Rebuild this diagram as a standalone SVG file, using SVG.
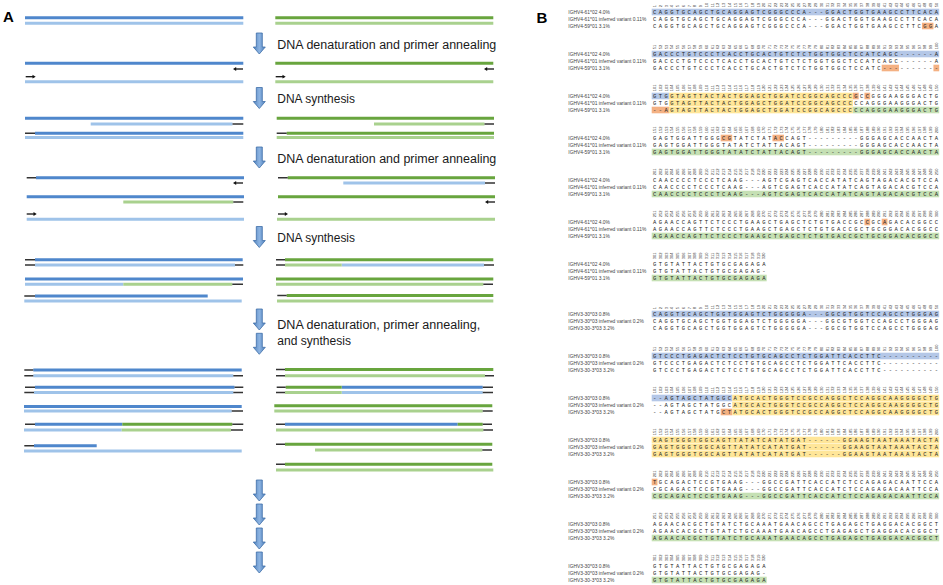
<svg xmlns="http://www.w3.org/2000/svg" xmlns:xlink="http://www.w3.org/1999/xlink" width="943" height="585" viewBox="0 0 943 585">
<style>
.lbl{font:4.9px "Liberation Sans",Arial,sans-serif;fill:#444}
.seq{font:5.5px "Liberation Mono","Courier New",monospace;letter-spacing:2.45px;fill:#222}
.num{font:4px "Liberation Sans",Arial,sans-serif;fill:#333}
.hb{fill:#b4c7e7}.hy{fill:#ffe699}.hg{fill:#c5e0b4}.ho{fill:#f4b183}
.db,.lb,.dg,.lg,.bk{fill:none}
.db{stroke:#4f87cc;stroke-width:3}.lb{stroke:#9fc3e9;stroke-width:3}.dg{stroke:#68a53e;stroke-width:3}.lg{stroke:#a9d18e;stroke-width:3}.bk{stroke:#333;stroke-width:1.6}
.step{font:12.5px "Liberation Sans",Arial,sans-serif;fill:#1a1a1a}
.panel{font:bold 15px "Liberation Sans",Arial,sans-serif;fill:#000}
.darr{fill:url(#ag);stroke:#3f6fa8;stroke-width:0.8}
</style>
<defs>
<linearGradient id="ag" x1="0" x2="1" y1="0" y2="0"><stop offset="0" stop-color="#4f81bd"/><stop offset="0.5" stop-color="#8db4e2"/><stop offset="1" stop-color="#4f81bd"/></linearGradient>
<path id="darr" class="darr" d="M-3,0h6v14h3l-6,7l-6,-7h3z"/>
<g id="arL"><path d="M2.5,0H10" stroke="#111" stroke-width="1.3"/><path d="M0,0l3.2-1.9v3.8z" fill="#111"/></g>
<g id="arR"><path d="M0,0H7.5" stroke="#111" stroke-width="1.3"/><path d="M10,0l-3.2-1.9v3.8z" fill="#111"/></g>
<text id="n1" class="num" transform="rotate(-90)"><tspan x="0">1</tspan><tspan x="0" dy="5.75">2</tspan><tspan x="0" dy="5.75">3</tspan><tspan x="0" dy="5.75">4</tspan><tspan x="0" dy="5.75">5</tspan><tspan x="0" dy="5.75">6</tspan><tspan x="0" dy="5.75">7</tspan><tspan x="0" dy="5.75">8</tspan><tspan x="0" dy="5.75">9</tspan><tspan x="0" dy="5.75">10</tspan><tspan x="0" dy="5.75">11</tspan><tspan x="0" dy="5.75">12</tspan><tspan x="0" dy="5.75">13</tspan><tspan x="0" dy="5.75">14</tspan><tspan x="0" dy="5.75">15</tspan><tspan x="0" dy="5.75">16</tspan><tspan x="0" dy="5.75">17</tspan><tspan x="0" dy="5.75">18</tspan><tspan x="0" dy="5.75">19</tspan><tspan x="0" dy="5.75">20</tspan><tspan x="0" dy="5.75">21</tspan><tspan x="0" dy="5.75">22</tspan><tspan x="0" dy="5.75">23</tspan><tspan x="0" dy="5.75">24</tspan><tspan x="0" dy="5.75">25</tspan><tspan x="0" dy="5.75">26</tspan><tspan x="0" dy="5.75">27</tspan><tspan x="0" dy="5.75">28</tspan><tspan x="0" dy="5.75">29</tspan><tspan x="0" dy="5.75">30</tspan><tspan x="0" dy="5.75">31</tspan><tspan x="0" dy="5.75">32</tspan><tspan x="0" dy="5.75">33</tspan><tspan x="0" dy="5.75">34</tspan><tspan x="0" dy="5.75">35</tspan><tspan x="0" dy="5.75">36</tspan><tspan x="0" dy="5.75">37</tspan><tspan x="0" dy="5.75">38</tspan><tspan x="0" dy="5.75">39</tspan><tspan x="0" dy="5.75">40</tspan><tspan x="0" dy="5.75">41</tspan><tspan x="0" dy="5.75">42</tspan><tspan x="0" dy="5.75">43</tspan><tspan x="0" dy="5.75">44</tspan><tspan x="0" dy="5.75">45</tspan><tspan x="0" dy="5.75">46</tspan><tspan x="0" dy="5.75">47</tspan><tspan x="0" dy="5.75">48</tspan><tspan x="0" dy="5.75">49</tspan><tspan x="0" dy="5.75">50</tspan></text>
<text id="n2" class="num" transform="rotate(-90)"><tspan x="0">51</tspan><tspan x="0" dy="5.75">52</tspan><tspan x="0" dy="5.75">53</tspan><tspan x="0" dy="5.75">54</tspan><tspan x="0" dy="5.75">55</tspan><tspan x="0" dy="5.75">56</tspan><tspan x="0" dy="5.75">57</tspan><tspan x="0" dy="5.75">58</tspan><tspan x="0" dy="5.75">59</tspan><tspan x="0" dy="5.75">60</tspan><tspan x="0" dy="5.75">61</tspan><tspan x="0" dy="5.75">62</tspan><tspan x="0" dy="5.75">63</tspan><tspan x="0" dy="5.75">64</tspan><tspan x="0" dy="5.75">65</tspan><tspan x="0" dy="5.75">66</tspan><tspan x="0" dy="5.75">67</tspan><tspan x="0" dy="5.75">68</tspan><tspan x="0" dy="5.75">69</tspan><tspan x="0" dy="5.75">70</tspan><tspan x="0" dy="5.75">71</tspan><tspan x="0" dy="5.75">72</tspan><tspan x="0" dy="5.75">73</tspan><tspan x="0" dy="5.75">74</tspan><tspan x="0" dy="5.75">75</tspan><tspan x="0" dy="5.75">76</tspan><tspan x="0" dy="5.75">77</tspan><tspan x="0" dy="5.75">78</tspan><tspan x="0" dy="5.75">79</tspan><tspan x="0" dy="5.75">80</tspan><tspan x="0" dy="5.75">81</tspan><tspan x="0" dy="5.75">82</tspan><tspan x="0" dy="5.75">83</tspan><tspan x="0" dy="5.75">84</tspan><tspan x="0" dy="5.75">85</tspan><tspan x="0" dy="5.75">86</tspan><tspan x="0" dy="5.75">87</tspan><tspan x="0" dy="5.75">88</tspan><tspan x="0" dy="5.75">89</tspan><tspan x="0" dy="5.75">90</tspan><tspan x="0" dy="5.75">91</tspan><tspan x="0" dy="5.75">92</tspan><tspan x="0" dy="5.75">93</tspan><tspan x="0" dy="5.75">94</tspan><tspan x="0" dy="5.75">95</tspan><tspan x="0" dy="5.75">96</tspan><tspan x="0" dy="5.75">97</tspan><tspan x="0" dy="5.75">98</tspan><tspan x="0" dy="5.75">99</tspan><tspan x="0" dy="5.75">100</tspan></text>
<text id="n3" class="num" transform="rotate(-90)"><tspan x="0">101</tspan><tspan x="0" dy="5.75">102</tspan><tspan x="0" dy="5.75">103</tspan><tspan x="0" dy="5.75">104</tspan><tspan x="0" dy="5.75">105</tspan><tspan x="0" dy="5.75">106</tspan><tspan x="0" dy="5.75">107</tspan><tspan x="0" dy="5.75">108</tspan><tspan x="0" dy="5.75">109</tspan><tspan x="0" dy="5.75">110</tspan><tspan x="0" dy="5.75">111</tspan><tspan x="0" dy="5.75">112</tspan><tspan x="0" dy="5.75">113</tspan><tspan x="0" dy="5.75">114</tspan><tspan x="0" dy="5.75">115</tspan><tspan x="0" dy="5.75">116</tspan><tspan x="0" dy="5.75">117</tspan><tspan x="0" dy="5.75">118</tspan><tspan x="0" dy="5.75">119</tspan><tspan x="0" dy="5.75">120</tspan><tspan x="0" dy="5.75">121</tspan><tspan x="0" dy="5.75">122</tspan><tspan x="0" dy="5.75">123</tspan><tspan x="0" dy="5.75">124</tspan><tspan x="0" dy="5.75">125</tspan><tspan x="0" dy="5.75">126</tspan><tspan x="0" dy="5.75">127</tspan><tspan x="0" dy="5.75">128</tspan><tspan x="0" dy="5.75">129</tspan><tspan x="0" dy="5.75">130</tspan><tspan x="0" dy="5.75">131</tspan><tspan x="0" dy="5.75">132</tspan><tspan x="0" dy="5.75">133</tspan><tspan x="0" dy="5.75">134</tspan><tspan x="0" dy="5.75">135</tspan><tspan x="0" dy="5.75">136</tspan><tspan x="0" dy="5.75">137</tspan><tspan x="0" dy="5.75">138</tspan><tspan x="0" dy="5.75">139</tspan><tspan x="0" dy="5.75">140</tspan><tspan x="0" dy="5.75">141</tspan><tspan x="0" dy="5.75">142</tspan><tspan x="0" dy="5.75">143</tspan><tspan x="0" dy="5.75">144</tspan><tspan x="0" dy="5.75">145</tspan><tspan x="0" dy="5.75">146</tspan><tspan x="0" dy="5.75">147</tspan><tspan x="0" dy="5.75">148</tspan><tspan x="0" dy="5.75">149</tspan><tspan x="0" dy="5.75">150</tspan></text>
<text id="n4" class="num" transform="rotate(-90)"><tspan x="0">151</tspan><tspan x="0" dy="5.75">152</tspan><tspan x="0" dy="5.75">153</tspan><tspan x="0" dy="5.75">154</tspan><tspan x="0" dy="5.75">155</tspan><tspan x="0" dy="5.75">156</tspan><tspan x="0" dy="5.75">157</tspan><tspan x="0" dy="5.75">158</tspan><tspan x="0" dy="5.75">159</tspan><tspan x="0" dy="5.75">160</tspan><tspan x="0" dy="5.75">161</tspan><tspan x="0" dy="5.75">162</tspan><tspan x="0" dy="5.75">163</tspan><tspan x="0" dy="5.75">164</tspan><tspan x="0" dy="5.75">165</tspan><tspan x="0" dy="5.75">166</tspan><tspan x="0" dy="5.75">167</tspan><tspan x="0" dy="5.75">168</tspan><tspan x="0" dy="5.75">169</tspan><tspan x="0" dy="5.75">170</tspan><tspan x="0" dy="5.75">171</tspan><tspan x="0" dy="5.75">172</tspan><tspan x="0" dy="5.75">173</tspan><tspan x="0" dy="5.75">174</tspan><tspan x="0" dy="5.75">175</tspan><tspan x="0" dy="5.75">176</tspan><tspan x="0" dy="5.75">177</tspan><tspan x="0" dy="5.75">178</tspan><tspan x="0" dy="5.75">179</tspan><tspan x="0" dy="5.75">180</tspan><tspan x="0" dy="5.75">181</tspan><tspan x="0" dy="5.75">182</tspan><tspan x="0" dy="5.75">183</tspan><tspan x="0" dy="5.75">184</tspan><tspan x="0" dy="5.75">185</tspan><tspan x="0" dy="5.75">186</tspan><tspan x="0" dy="5.75">187</tspan><tspan x="0" dy="5.75">188</tspan><tspan x="0" dy="5.75">189</tspan><tspan x="0" dy="5.75">190</tspan><tspan x="0" dy="5.75">191</tspan><tspan x="0" dy="5.75">192</tspan><tspan x="0" dy="5.75">193</tspan><tspan x="0" dy="5.75">194</tspan><tspan x="0" dy="5.75">195</tspan><tspan x="0" dy="5.75">196</tspan><tspan x="0" dy="5.75">197</tspan><tspan x="0" dy="5.75">198</tspan><tspan x="0" dy="5.75">199</tspan><tspan x="0" dy="5.75">200</tspan></text>
<text id="n5" class="num" transform="rotate(-90)"><tspan x="0">201</tspan><tspan x="0" dy="5.75">202</tspan><tspan x="0" dy="5.75">203</tspan><tspan x="0" dy="5.75">204</tspan><tspan x="0" dy="5.75">205</tspan><tspan x="0" dy="5.75">206</tspan><tspan x="0" dy="5.75">207</tspan><tspan x="0" dy="5.75">208</tspan><tspan x="0" dy="5.75">209</tspan><tspan x="0" dy="5.75">210</tspan><tspan x="0" dy="5.75">211</tspan><tspan x="0" dy="5.75">212</tspan><tspan x="0" dy="5.75">213</tspan><tspan x="0" dy="5.75">214</tspan><tspan x="0" dy="5.75">215</tspan><tspan x="0" dy="5.75">216</tspan><tspan x="0" dy="5.75">217</tspan><tspan x="0" dy="5.75">218</tspan><tspan x="0" dy="5.75">219</tspan><tspan x="0" dy="5.75">220</tspan><tspan x="0" dy="5.75">221</tspan><tspan x="0" dy="5.75">222</tspan><tspan x="0" dy="5.75">223</tspan><tspan x="0" dy="5.75">224</tspan><tspan x="0" dy="5.75">225</tspan><tspan x="0" dy="5.75">226</tspan><tspan x="0" dy="5.75">227</tspan><tspan x="0" dy="5.75">228</tspan><tspan x="0" dy="5.75">229</tspan><tspan x="0" dy="5.75">230</tspan><tspan x="0" dy="5.75">231</tspan><tspan x="0" dy="5.75">232</tspan><tspan x="0" dy="5.75">233</tspan><tspan x="0" dy="5.75">234</tspan><tspan x="0" dy="5.75">235</tspan><tspan x="0" dy="5.75">236</tspan><tspan x="0" dy="5.75">237</tspan><tspan x="0" dy="5.75">238</tspan><tspan x="0" dy="5.75">239</tspan><tspan x="0" dy="5.75">240</tspan><tspan x="0" dy="5.75">241</tspan><tspan x="0" dy="5.75">242</tspan><tspan x="0" dy="5.75">243</tspan><tspan x="0" dy="5.75">244</tspan><tspan x="0" dy="5.75">245</tspan><tspan x="0" dy="5.75">246</tspan><tspan x="0" dy="5.75">247</tspan><tspan x="0" dy="5.75">248</tspan><tspan x="0" dy="5.75">249</tspan><tspan x="0" dy="5.75">250</tspan></text>
<text id="n6" class="num" transform="rotate(-90)"><tspan x="0">251</tspan><tspan x="0" dy="5.75">252</tspan><tspan x="0" dy="5.75">253</tspan><tspan x="0" dy="5.75">254</tspan><tspan x="0" dy="5.75">255</tspan><tspan x="0" dy="5.75">256</tspan><tspan x="0" dy="5.75">257</tspan><tspan x="0" dy="5.75">258</tspan><tspan x="0" dy="5.75">259</tspan><tspan x="0" dy="5.75">260</tspan><tspan x="0" dy="5.75">261</tspan><tspan x="0" dy="5.75">262</tspan><tspan x="0" dy="5.75">263</tspan><tspan x="0" dy="5.75">264</tspan><tspan x="0" dy="5.75">265</tspan><tspan x="0" dy="5.75">266</tspan><tspan x="0" dy="5.75">267</tspan><tspan x="0" dy="5.75">268</tspan><tspan x="0" dy="5.75">269</tspan><tspan x="0" dy="5.75">270</tspan><tspan x="0" dy="5.75">271</tspan><tspan x="0" dy="5.75">272</tspan><tspan x="0" dy="5.75">273</tspan><tspan x="0" dy="5.75">274</tspan><tspan x="0" dy="5.75">275</tspan><tspan x="0" dy="5.75">276</tspan><tspan x="0" dy="5.75">277</tspan><tspan x="0" dy="5.75">278</tspan><tspan x="0" dy="5.75">279</tspan><tspan x="0" dy="5.75">280</tspan><tspan x="0" dy="5.75">281</tspan><tspan x="0" dy="5.75">282</tspan><tspan x="0" dy="5.75">283</tspan><tspan x="0" dy="5.75">284</tspan><tspan x="0" dy="5.75">285</tspan><tspan x="0" dy="5.75">286</tspan><tspan x="0" dy="5.75">287</tspan><tspan x="0" dy="5.75">288</tspan><tspan x="0" dy="5.75">289</tspan><tspan x="0" dy="5.75">290</tspan><tspan x="0" dy="5.75">291</tspan><tspan x="0" dy="5.75">292</tspan><tspan x="0" dy="5.75">293</tspan><tspan x="0" dy="5.75">294</tspan><tspan x="0" dy="5.75">295</tspan><tspan x="0" dy="5.75">296</tspan><tspan x="0" dy="5.75">297</tspan><tspan x="0" dy="5.75">298</tspan><tspan x="0" dy="5.75">299</tspan><tspan x="0" dy="5.75">300</tspan></text>
<text id="n7" class="num" transform="rotate(-90)"><tspan x="0">301</tspan><tspan x="0" dy="5.75">302</tspan><tspan x="0" dy="5.75">303</tspan><tspan x="0" dy="5.75">304</tspan><tspan x="0" dy="5.75">305</tspan><tspan x="0" dy="5.75">306</tspan><tspan x="0" dy="5.75">307</tspan><tspan x="0" dy="5.75">308</tspan><tspan x="0" dy="5.75">309</tspan><tspan x="0" dy="5.75">310</tspan><tspan x="0" dy="5.75">311</tspan><tspan x="0" dy="5.75">312</tspan><tspan x="0" dy="5.75">313</tspan><tspan x="0" dy="5.75">314</tspan><tspan x="0" dy="5.75">315</tspan><tspan x="0" dy="5.75">316</tspan><tspan x="0" dy="5.75">317</tspan><tspan x="0" dy="5.75">318</tspan><tspan x="0" dy="5.75">319</tspan><tspan x="0" dy="5.75">320</tspan></text>
</defs>
<rect width="943" height="585" fill="#fff"/>

<!-- Panel A -->
<g id="panelA">
<text class="panel" x="3" y="22">A</text>
<g id="a-row1">
<path class="db" d="M25 17.7H243.3"/><path class="lb" d="M25 23.3H243.3"/>
<path class="dg" d="M275.3 17.7H493.3"/><path class="lg" d="M275.3 23.3H493.3"/>
</g>
<g id="a-row2">
<path class="db" d="M25 63.3H243.3"/><path class="lb" d="M25 81.7H243.3"/>
<path class="dg" d="M275.3 63.3H493.3"/><path class="lg" d="M275.3 81.7H493.3"/>
<use href="#arL" x="233" y="69"/><use href="#arR" x="25.7" y="76.7"/>
<use href="#arL" x="484" y="69"/><use href="#arR" x="275.7" y="76.7"/>
</g>
<g id="a-row3">
<path class="db" d="M25 118.3H243.3M35 133.3H243.3"/>
<path class="lb" d="M90.7 124H232.5M25 137.5H243.3"/>
<path class="dg" d="M276.7 118.3H494M286.7 133.3H494"/>
<path class="lg" d="M374 124H484.5M276.7 137.5H494"/>
<path class="bk" d="M232.5 124H243.3M25 133.3H35M484.5 124H494M276.7 133.3H286.7"/>
</g>
<g id="a-row4">
<path class="db" d="M36 177.7H244M26.7 196.7H244"/>
<path class="lb" d="M26.7 219.3H244M343.3 183H485"/>
<path class="dg" d="M287.7 177.7H495M278 196.7H495"/>
<path class="lg" d="M123.3 202H233.3M277 219.3H495"/>
<path class="bk" d="M26.7 177.7H36M233.3 202H243.3M278 177.7H287.7M485 183H495"/>
<use href="#arL" x="233" y="183"/><use href="#arR" x="26.7" y="214"/>
<use href="#arL" x="485" y="202"/><use href="#arR" x="278" y="214"/>
</g>
<g id="a-row5">
<path class="db" d="M35 259.7H242.7M25 279H243M35 296H207.7"/>
<path class="lb" d="M35 265H235M25 284.3H123.3M24.3 301H241.7M341.7 265H484"/>
<path class="dg" d="M285 259.7H493.3M276 279H493.3M286.7 295.5H493.3"/>
<path class="lg" d="M123.3 284.3H232.3M285 265H341.7M276 284.3H483.3M277 301H493.3"/>
<path class="bk" d="M25 259.7H35M25 265H35M235 265H243.3M232.3 284.3H243M24.3 296H35M276 259.7H285M276 265H285M484 265H494M483.3 284.3H493M277.3 295.5H286.7"/>
</g>
<g id="a-row6">
<path class="db" d="M33.3 370H241.7M35 387.3H234.5M24 406.5H241.7M35 424.3H122.3M34 445.7H96.7M341.7 387.3H482.7M285 424.3H457.7"/>
<path class="lb" d="M33.3 375.7H233.3M34 392.5H233.3M24 411H231.7M24 430H121.7M24 451H241.7M341.7 392.5H482.7"/>
<path class="dg" d="M122.3 424.3H232.3M285 369.5H493.3M285.7 387.3H341.7M274.3 405.7H492.3M457.7 424.3H482.7M285 444.3H492.3M285 464.3H492.3"/>
<path class="lg" d="M121.7 430H231M285 375.7H485M285 392.5H341.7M274.3 411H482.7M276 430H483.3M315 450H482.3M276 470H493.3"/>
<path class="bk" d="M24.3 370H33.3M24.3 375.7H33.3M233.3 375.7H243M25 387.3H35M234.5 387.3H243.3M24.3 392.5H34M233.3 392.5H243M231.7 411H243M25 424.3H35M232.3 424.3H243.3M231 430H243M24.3 445.7H34M276 369.5H285M276 375.7H285M485 375.7H494M276.7 387.3H285.7M482.7 387.3H493M276 392.5H285M482.7 392.5H493M482.7 411H492.7M276 424.3H285M482.7 424.3H492M483.3 430H493M276 444.3H285M482.3 450H492M276 464.3H285"/>
</g>
<g id="a-steps">
<use href="#darr" x="259.3" y="33"/>
<text class="step" x="277.3" y="49" textLength="219" lengthAdjust="spacingAndGlyphs">DNA denaturation and primer annealing</text>
<use href="#darr" x="259.3" y="87.5"/>
<text class="step" x="277.3" y="102.5" textLength="77.7" lengthAdjust="spacingAndGlyphs">DNA synthesis</text>
<use href="#darr" x="259.3" y="147"/>
<text class="step" x="277.3" y="163.3" textLength="219" lengthAdjust="spacingAndGlyphs">DNA denaturation and primer annealing</text>
<use href="#darr" x="259.3" y="226.5"/>
<text class="step" x="277.3" y="241.7" textLength="77.7" lengthAdjust="spacingAndGlyphs">DNA synthesis</text>
<use href="#darr" x="259.3" y="309"/>
<use href="#darr" x="259.3" y="333.3"/>
<text class="step" x="277.3" y="329" textLength="203" lengthAdjust="spacingAndGlyphs">DNA denaturation, primer annealing,</text>
<text class="step" x="277.3" y="344.5" textLength="73.7" lengthAdjust="spacingAndGlyphs">and synthesis</text>
<use href="#darr" x="259.3" y="480"/>
<use href="#darr" x="259.3" y="504"/>
<use href="#darr" x="259.3" y="528"/>
<use href="#darr" x="259.3" y="552"/>
</g>
</g>

<!-- Panel B -->
<g id="panelB">
<text class="panel" x="536.5" y="23.3">B</text>

<g id="v4-b1">
<rect class="hb" x="651.7" y="8.7" width="287.5" height="6.6"/>
<rect class="ho" x="921.95" y="22.7" width="11.5" height="6.6"/>
<use href="#n1" x="656" y="7.2"/>
<text class="lbl" x="568.3" y="13.7">IGHV4-61*02 4.0%</text>
<text class="lbl" x="568.3" y="20.7">IGHV4-61*01 inferred variant 0.11%</text>
<text class="lbl" x="568.3" y="27.7">IGHV4-59*01 3.1%</text>
<text class="seq" x="652.93" y="13.9">CAGGTGCAGCTGCAGGAGTCGGGCCCA---GGACTGGTGAAGCCTTCACA</text>
<text class="seq" x="652.93" y="20.9">CAGGTGCAGCTGCAGGAGTCGGGCCCA---GGACTGGTGAAGCCTTCACA</text>
<text class="seq" x="652.93" y="27.9">CAGGTGCAGCTGCAGGAGTCGGGCCCA---GGACTGGTGAAGCCTTCGGA</text>
</g>

<g id="v4-b2">
<rect class="hb" x="651.7" y="50.7" width="287.5" height="6.6"/>
<rect class="ho" x="881.7" y="64.7" width="17.25" height="6.6"/>
<rect class="ho" x="933.45" y="64.7" width="5.75" height="6.6"/>
<use href="#n2" x="656" y="49.2"/>
<text class="lbl" x="568.3" y="55.7">IGHV4-61*02 4.0%</text>
<text class="lbl" x="568.3" y="62.7">IGHV4-61*01 inferred variant 0.11%</text>
<text class="lbl" x="568.3" y="69.7">IGHV4-59*01 3.1%</text>
<text class="seq" x="652.93" y="55.9">GACCCTGTCCCTCACCTGCACTGTCTCTGGTGGCTCCATCAGC------A</text>
<text class="seq" x="652.93" y="62.9">GACCCTGTCCCTCACCTGCACTGTCTCTGGTGGCTCCATCAGC------A</text>
<text class="seq" x="652.93" y="69.9">GACCCTGTCCCTCACCTGCACTGTCTCTGGTGGCTCCATC----------</text>
</g>

<g id="v4-b3">
<rect class="hb" x="651.7" y="92.7" width="17.25" height="6.6"/>
<rect class="hy" x="668.95" y="92.7" width="184" height="6.6"/>
<rect class="ho" x="852.95" y="92.7" width="5.75" height="6.6"/>
<rect class="ho" x="864.45" y="92.7" width="5.75" height="6.6"/>
<rect class="hy" x="668.95" y="99.7" width="184" height="6.6"/>
<rect class="ho" x="651.7" y="106.7" width="17.25" height="6.6"/>
<rect class="hy" x="668.95" y="106.7" width="184" height="6.6"/>
<rect class="hg" x="852.95" y="106.7" width="86.25" height="6.6"/>
<use href="#n3" x="656" y="91.2"/>
<text class="lbl" x="568.3" y="97.7">IGHV4-61*02 4.0%</text>
<text class="lbl" x="568.3" y="104.7">IGHV4-61*01 inferred variant 0.11%</text>
<text class="lbl" x="568.3" y="111.7">IGHV4-59*01 3.1%</text>
<text class="seq" x="652.93" y="97.9">GTGGTAGTTACTACTGGAGCTGGATCCGGCAGCCCGCCGGGAAGGGACTG</text>
<text class="seq" x="652.93" y="104.9">GTGGTAGTTACTACTGGAGCTGGATCCGGCAGCCCCCAGGGAAGGGACTG</text>
<text class="seq" x="652.93" y="111.9">--AGTAGTTACTACTGGAGCTGGATCCGGCAGCCCCCAGGGAAGGGACTG</text>
</g>

<g id="v4-b4">
<rect class="ho" x="720.7" y="134.7" width="11.5" height="6.6"/>
<rect class="ho" x="772.45" y="134.7" width="11.5" height="6.6"/>
<rect class="hg" x="651.7" y="148.7" width="287.5" height="6.6"/>
<use href="#n4" x="656" y="133.2"/>
<text class="lbl" x="568.3" y="139.7">IGHV4-61*02 4.0%</text>
<text class="lbl" x="568.3" y="146.7">IGHV4-61*01 inferred variant 0.11%</text>
<text class="lbl" x="568.3" y="153.7">IGHV4-59*01 3.1%</text>
<text class="seq" x="652.93" y="139.9">GAGTGGATTGGGCGTATCTATACCAGT---------GGGAGCACCAACTA</text>
<text class="seq" x="652.93" y="146.9">GAGTGGATTGGGTATATCTATTACAGT---------GGGAGCACCAACTA</text>
<text class="seq" x="652.93" y="153.9">GAGTGGATTGGGTATATCTATTACAGT---------GGGAGCACCAACTA</text>
</g>

<g id="v4-b5">
<rect class="hg" x="651.7" y="190.7" width="287.5" height="6.6"/>
<use href="#n5" x="656" y="175.2"/>
<text class="lbl" x="568.3" y="181.7">IGHV4-61*02 4.0%</text>
<text class="lbl" x="568.3" y="188.7">IGHV4-61*01 inferred variant 0.11%</text>
<text class="lbl" x="568.3" y="195.7">IGHV4-59*01 3.1%</text>
<text class="seq" x="652.93" y="181.9">CAACCCCTCCCTCAAG---AGTCGAGTCACCATATCAGTAGACACGTCCA</text>
<text class="seq" x="652.93" y="188.9">CAACCCCTCCCTCAAG---AGTCGAGTCACCATATCAGTAGACACGTCCA</text>
<text class="seq" x="652.93" y="195.9">CAACCCCTCCCTCAAG---AGTCGAGTCACCATATCAGTAGACACGTCCA</text>
</g>

<g id="v4-b6">
<rect class="ho" x="864.45" y="218.7" width="5.75" height="6.6"/>
<rect class="ho" x="881.7" y="218.7" width="5.75" height="6.6"/>
<rect class="hg" x="651.7" y="232.7" width="287.5" height="6.6"/>
<use href="#n6" x="656" y="217.2"/>
<text class="lbl" x="568.3" y="223.7">IGHV4-61*02 4.0%</text>
<text class="lbl" x="568.3" y="230.7">IGHV4-61*01 inferred variant 0.11%</text>
<text class="lbl" x="568.3" y="237.7">IGHV4-59*01 3.1%</text>
<text class="seq" x="652.93" y="223.9">AGAACCAGTTCTCCCTGAAGCTGAGCTCTGTGACCGCCGCAGACACGGCC</text>
<text class="seq" x="652.93" y="230.9">AGAACCAGTTCTCCCTGAAGCTGAGCTCTGTGACCGCTGCGGACACGGCC</text>
<text class="seq" x="652.93" y="237.9">AGAACCAGTTCTCCCTGAAGCTGAGCTCTGTGACCGCTGCGGACACGGCC</text>
</g>

<g id="v4-b7">
<rect class="hg" x="651.7" y="274.7" width="115" height="6.6"/>
<use href="#n7" x="656" y="259.2"/>
<text class="lbl" x="568.3" y="265.7">IGHV4-61*02 4.0%</text>
<text class="lbl" x="568.3" y="272.7">IGHV4-61*01 inferred variant 0.11%</text>
<text class="lbl" x="568.3" y="279.7">IGHV4-59*01 3.1%</text>
<text class="seq" x="652.93" y="265.9">GTGTATTACTGTGCGAGAGA</text>
<text class="seq" x="652.93" y="272.9">GTGTATTACTGTGCGAGAG-</text>
<text class="seq" x="652.93" y="279.9">GTGTATTACTGTGCGAGAGA</text>
</g>

<g id="v3-b1">
<rect class="hb" x="651.7" y="310.7" width="287.5" height="6.6"/>
<use href="#n1" x="656" y="309.2"/>
<text class="lbl" x="568.3" y="315.7">IGHV3-30*03 0.8%</text>
<text class="lbl" x="568.3" y="322.7">IGHV3-30*03 inferred variant 0.2%</text>
<text class="lbl" x="568.3" y="329.7">IGHV3-30-3*03 3.2%</text>
<text class="seq" x="652.93" y="315.9">CAGGTGCAGCTGGTGGAGTCTGGGGGA---GGCGTGGTCCAGCCTGGGAG</text>
<text class="seq" x="652.93" y="322.9">CAGGTGCAGCTGGTGGAGTCTGGGGGA---GGCGTGGTCCAGCCTGGGAG</text>
<text class="seq" x="652.93" y="329.9">CAGGTGCAGCTGGTGGAGTCTGGGGGA---GGCGTGGTCCAGCCTGGGAG</text>
</g>

<g id="v3-b2">
<rect class="hb" x="651.7" y="352.7" width="287.5" height="6.6"/>
<use href="#n2" x="656" y="351.2"/>
<text class="lbl" x="568.3" y="357.7">IGHV3-30*03 0.8%</text>
<text class="lbl" x="568.3" y="364.7">IGHV3-30*03 inferred variant 0.2%</text>
<text class="lbl" x="568.3" y="371.7">IGHV3-30-3*03 3.2%</text>
<text class="seq" x="652.93" y="357.9">GTCCCTGAGACTCTCCTGTGCAGCCTCTGGATTCACCTTC----------</text>
<text class="seq" x="652.93" y="364.9">GTCCCTGAGACTCTCCTGTGCAGCCTCTGGATTCACCTTC----------</text>
<text class="seq" x="652.93" y="371.9">GTCCCTGAGACTCTCCTGTGCAGCCTCTGGATTCACCTTC----------</text>
</g>

<g id="v3-b3">
<rect class="hb" x="651.7" y="394.7" width="80.5" height="6.6"/>
<rect class="hy" x="732.2" y="394.7" width="207" height="6.6"/>
<rect class="hy" x="732.2" y="401.7" width="207" height="6.6"/>
<rect class="ho" x="720.7" y="408.7" width="11.5" height="6.6"/>
<rect class="hy" x="732.2" y="408.7" width="207" height="6.6"/>
<use href="#n3" x="656" y="393.2"/>
<text class="lbl" x="568.3" y="399.7">IGHV3-30*03 0.8%</text>
<text class="lbl" x="568.3" y="406.7">IGHV3-30*03 inferred variant 0.2%</text>
<text class="lbl" x="568.3" y="413.7">IGHV3-30-3*03 3.2%</text>
<text class="seq" x="652.93" y="399.9">--AGTAGCTATGGCATGCACTGGGTCCGCCAGGCTCCAGGCAAGGGGCTG</text>
<text class="seq" x="652.93" y="406.9">--AGTAGCTATGGCATGCACTGGGTCCGCCAGGCTCCAGGCAAGGGGCTG</text>
<text class="seq" x="652.93" y="413.9">--AGTAGCTATGCTATGCACTGGGTCCGCCAGGCTCCAGGCAAGGGGCTG</text>
</g>

<g id="v3-b4">
<rect class="hy" x="651.7" y="436.7" width="287.5" height="6.6"/>
<rect class="hy" x="651.7" y="443.7" width="287.5" height="6.6"/>
<rect class="hy" x="651.7" y="450.7" width="287.5" height="6.6"/>
<use href="#n4" x="656" y="435.2"/>
<text class="lbl" x="568.3" y="441.7">IGHV3-30*03 0.8%</text>
<text class="lbl" x="568.3" y="448.7">IGHV3-30*03 inferred variant 0.2%</text>
<text class="lbl" x="568.3" y="455.7">IGHV3-30-3*03 3.2%</text>
<text class="seq" x="652.93" y="441.9">GAGTGGGTGGCAGTTATATCATATGAT------GGAAGTAATAAATACTA</text>
<text class="seq" x="652.93" y="448.9">GAGTGGGTGGCAGTTATATCATATGAT------GGAAGTAATAAATACTA</text>
<text class="seq" x="652.93" y="455.9">GAGTGGGTGGCAGTTATATCATATGAT------GGAAGTAATAAATACTA</text>
</g>

<g id="v3-b5">
<rect class="ho" x="651.7" y="478.7" width="5.75" height="6.6"/>
<rect class="hg" x="651.7" y="492.7" width="287.5" height="6.6"/>
<use href="#n5" x="656" y="477.2"/>
<text class="lbl" x="568.3" y="483.7">IGHV3-30*03 0.8%</text>
<text class="lbl" x="568.3" y="490.7">IGHV3-30*03 inferred variant 0.2%</text>
<text class="lbl" x="568.3" y="497.7">IGHV3-30-3*03 3.2%</text>
<text class="seq" x="652.93" y="483.9">TGCAGACTCCGTGAAG---GGCCGATTCACCATCTCCAGAGACAATTCCA</text>
<text class="seq" x="652.93" y="490.9">CGCAGACTCCGTGAAG---GGCCGATTCACCATCTCCAGAGACAATTCCA</text>
<text class="seq" x="652.93" y="497.9">CGCAGACTCCGTGAAG---GGCCGATTCACCATCTCCAGAGACAATTCCA</text>
</g>

<g id="v3-b6">
<rect class="hg" x="651.7" y="534.7" width="287.5" height="6.6"/>
<use href="#n6" x="656" y="519.2"/>
<text class="lbl" x="568.3" y="525.7">IGHV3-30*03 0.8%</text>
<text class="lbl" x="568.3" y="532.7">IGHV3-30*03 inferred variant 0.2%</text>
<text class="lbl" x="568.3" y="539.7">IGHV3-30-3*03 3.2%</text>
<text class="seq" x="652.93" y="525.9">AGAACACGCTGTATCTGCAAATGAACAGCCTGAGAGCTGAGGACACGGCT</text>
<text class="seq" x="652.93" y="532.9">AGAACACGCTGTATCTGCAAATGAACAGCCTGAGAGCTGAGGACACGGCT</text>
<text class="seq" x="652.93" y="539.9">AGAACACGCTGTATCTGCAAATGAACAGCCTGAGAGCTGAGGACACGGCT</text>
</g>

<g id="v3-b7">
<rect class="hg" x="651.7" y="576.7" width="115" height="6.6"/>
<use href="#n7" x="656" y="561.2"/>
<text class="lbl" x="568.3" y="567.7">IGHV3-30*03 0.8%</text>
<text class="lbl" x="568.3" y="574.7">IGHV3-30*03 inferred variant 0.2%</text>
<text class="lbl" x="568.3" y="581.7">IGHV3-30-3*03 3.2%</text>
<text class="seq" x="652.93" y="567.9">GTGTATTACTGTGCGAGAGA</text>
<text class="seq" x="652.93" y="574.9">GTGTATTACTGTGCGAGAG-</text>
<text class="seq" x="652.93" y="581.9">GTGTATTACTGTGCGAGAGA</text>
</g>
</g>
</svg>
